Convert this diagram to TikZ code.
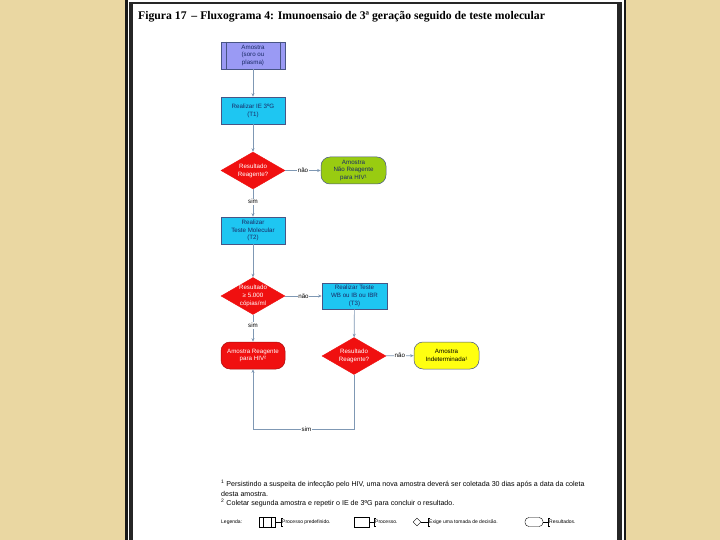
\documentclass[tikz,border=0pt]{standalone}
\usepackage{fontspec}
\setmainfont{Liberation Sans}
\newfontfamily\titlefont{Liberation Serif}
\usetikzlibrary{shapes.geometric,arrows.meta}
\definecolor{beige}{HTML}{EAD7A2}
\definecolor{lav}{HTML}{9A9AF4}
\definecolor{cyanb}{HTML}{1EC6F2}
\definecolor{redd}{HTML}{F01010}
\definecolor{grn}{HTML}{99CC11}
\definecolor{yel}{HTML}{FFFF10}
\definecolor{conn}{HTML}{7F98B4}
\definecolor{navy}{HTML}{1A2A66}
\begin{document}
\begin{tikzpicture}[x=1pt,y=-1pt,
  every node/.style={font=\fontsize{6.2}{7.8}\selectfont, align=center, inner sep=1pt},
  box/.style={draw=navy!80, line width=0.5pt, minimum width=64pt, minimum height=27pt, text=navy},
  procbox/.style={box, fill=cyanb},
  predef/.style={box, fill=lav},
  term/.style={draw=navy!80, line width=0.5pt, rounded corners=9pt, minimum width=65pt, minimum height=27pt},
  decision/.style={diamond, draw=redd, fill=redd, inner sep=0pt, minimum width=64pt, minimum height=37pt,
    label={[text=white]center:#1}},
  link/.style={draw=conn, line width=0.7pt, -{Stealth[length=3.6pt,width=3pt]}},
  lbl/.style={fill=white, inner sep=0.8pt, text=black},
  note/.style={align=left, anchor=west, text=black},
  legtxt/.style={note, font=\fontsize{5}{6}\selectfont}
]
\useasboundingbox (0,0) rectangle (720,540);
% background and page
\fill[beige] (0,0) rectangle (720,540);
\fill[black!90] (125,-2) rectangle (626,542);
\fill[white] (127.5,0.5) rectangle (623.5,542);
\fill[black!85] (129,2) rectangle (622,542);
\fill[white] (133,4) rectangle (617,542);
% title
\node[anchor=west, font=\titlefont\bfseries\fontsize{11.7}{13}\selectfont, inner sep=0] (title) at (138,17) {Figura 17 \,– Fluxograma 4: Imunoensaio de 3ª geração seguido de teste molecular};

% nodes
\node[predef] (a) at (253,55.5) {Amostra\\(soro ou\\plasma)};
\draw[navy!80, line width=0.5pt] ([xshift=5pt]a.north west) -- ([xshift=5pt]a.south west)
  ([xshift=-5pt]a.north east) -- ([xshift=-5pt]a.south east);
\node[procbox] (t1) at (253,110.5) {Realizar IE 3ºG\\(T1)};
\node[decision={Resultado\\Reagente?}] (d1) at (253,170.5) {};
\node[term, fill=grn, text=navy] (nr) at (353.5,170.5) {Amostra\\Não Reagente\\para HIV¹};
\node[procbox] (t2) at (253,230.5) {Realizar\\Teste Molecular\\(T2)};
\node[decision={Resultado\\≥ 5.000\\cópias/ml}] (d2) at (253,296) {};
\node[procbox, minimum width=65pt, minimum height=26pt] (t3) at (354.5,296) {Realizar Teste\\WB ou IB ou IBR\\(T3)};
\node[term, fill=redd, draw=redd!70!black, text=white, minimum width=64pt] (r) at (253,355.5) {Amostra Reagente\\para HIV²};
\node[decision={Resultado\\Reagente?}] (d3) at (354,356) {};
\node[term, fill=yel, text=black] (ind) at (446.5,355.5) {Amostra\\Indeterminada¹};
\coordinate (c1) at (354,429);
\coordinate (c2) at (253,429);

% connectors
\draw[link] (a) -- (t1);
\draw[link] (t1) -- (d1);
\draw[link] (d1) -- node[lbl]{não} (nr);
\draw[link] (d1) -- node[lbl, pos=0.45]{sim} (t2);
\draw[link] (t2) -- (d2);
\draw[link] (d2) -- node[lbl]{não} (t3);
\draw[link] (d2) -- node[lbl, pos=0.4]{sim} (r);
\draw[link] (t3) -- (d3);
\draw[link] (d3) -- node[lbl]{não} (ind);
\draw[link] (d3.south) -- (c1) -- node[lbl, pos=0.47]{sim} (c2) -- (r.south);

% footnotes
\node[note, anchor=north west, font=\fontsize{7.1}{9.6}\selectfont] (fn) at (220,479)
 {\textsuperscript{1} Persistindo a suspeita de infecção pelo HIV, uma nova amostra deverá ser coletada 30 dias após a data da coleta\\
  desta amostra.\\
  \textsuperscript{2} Coletar segunda amostra e repetir o IE de 3ºG para concluir o resultado.};

% legend
\node[legtxt] (lg) at (220,522) {Legenda:};
\node[draw=black, line width=0.4pt, minimum width=16pt, minimum height=10pt, inner sep=0] (s1) at (267,522) {};
\draw[line width=0.4pt] ([xshift=4pt]s1.north west) -- ([xshift=4pt]s1.south west)
  ([xshift=-4pt]s1.north east) -- ([xshift=-4pt]s1.south east);
\node[legtxt] (l1) at (281,522) {Processo predefinido.};
\draw[line width=0.4pt] (s1.east) -- (l1.west);
\draw[line width=0.4pt] ([xshift=2pt]l1.west |- 0,518) -- (l1.west |- 0,518) -- (l1.west |- 0,526) -- ([xshift=2pt]l1.west |- 0,526);

\node[draw=black, line width=0.4pt, minimum width=15pt, minimum height=10pt, inner sep=0] (s2) at (361.5,522) {};
\node[legtxt] (l2) at (374,522) {Processo.};
\draw[line width=0.4pt] (s2.east) -- (l2.west);
\draw[line width=0.4pt] ([xshift=2pt]l2.west |- 0,518) -- (l2.west |- 0,518) -- (l2.west |- 0,526) -- ([xshift=2pt]l2.west |- 0,526);

\node[diamond, draw=black, line width=0.4pt, minimum width=8pt, minimum height=8pt, inner sep=0] (s3) at (417,522) {};
\node[legtxt] (l3) at (428,522) {Exige uma tomada de decisão.};
\draw[line width=0.4pt] (s3.east) -- (l3.west);
\draw[line width=0.4pt] ([xshift=2pt]l3.west |- 0,518) -- (l3.west |- 0,518) -- (l3.west |- 0,526) -- ([xshift=2pt]l3.west |- 0,526);

\node[draw=black, line width=0.4pt, rounded corners=4pt, minimum width=18pt, minimum height=9pt, inner sep=0] (s4) at (534,522) {};
\node[legtxt] (l4) at (548,522) {Resultados.};
\draw[line width=0.4pt] (s4.east) -- (l4.west);
\draw[line width=0.4pt] ([xshift=2pt]l4.west |- 0,518) -- (l4.west |- 0,518) -- (l4.west |- 0,526) -- ([xshift=2pt]l4.west |- 0,526);
\end{tikzpicture}
\end{document}
